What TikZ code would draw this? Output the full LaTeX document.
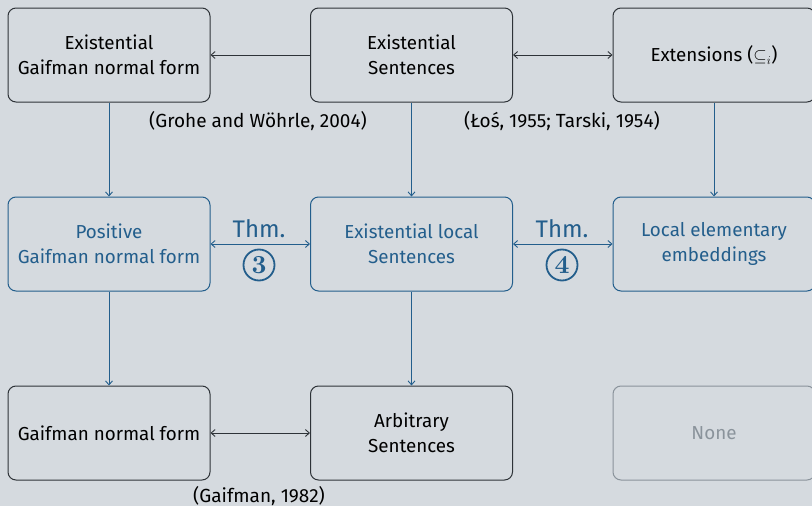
\documentclass[tikz,border=0pt]{standalone}
\usepackage[no-math]{fontspec}
\setmainfont{Fira Sans}
\newfontfamily\lmdigit{lmroman10-bold.otf}
\usetikzlibrary{arrows.meta}
\definecolor{bgc}{HTML}{D5DADF}
\definecolor{dk}{HTML}{2E3338}
\definecolor{bl}{HTML}{235E8C}
\definecolor{gr}{HTML}{8A939B}
\tikzset{
  box/.style={draw=dk, line width=1pt, rounded corners=8pt, minimum width=202pt, minimum height=94pt, align=center, text=black, font=\fontsize{18.8}{25}\selectfont},
  bbox/.style={box, draw=bl, text=bl},
  gbox/.style={box, draw=gr, text=gr},
  conn/.style={draw=dk, line width=0.9pt, -{Straight Barb[length=4pt,width=7pt]}},
  bconn/.style={conn, draw=bl},
  both/.style={{Straight Barb[length=4pt,width=7pt]}-{Straight Barb[length=4pt,width=7pt]}},
  lbl/.style={text=black, font=\fontsize{19}{25}\selectfont},
  thm/.style={text=bl, font=\fontsize{24}{28}\selectfont},
  circ/.style={text=bl, draw=bl, circle, line width=1.8pt, inner sep=0pt, minimum size=31pt, font=\fontsize{26}{26}\selectfont\lmdigit},
}
\begin{document}
\begin{tikzpicture}[x=1pt,y=-1pt]
\fill[bgc] (0,0) rectangle (812,506);
\useasboundingbox (0,0) rectangle (812,506);
\node[box] (egnf) at (109,55) {Existential\\Gaifman normal form};
\node[box] (es) at (411.5,55) {Existential\\Sentences};
\node[box] (ext) at (714,55) {Extensions ($\subseteq_i$)};
\node[bbox] (pgnf) at (109,244) {Positive\\Gaifman normal form};
\node[bbox] (els) at (411.5,244) {Existential local\\Sentences};
\node[bbox] (lee) at (714,244) {Local elementary\\embeddings};
\node[box] (gnf) at (109,433) {Gaifman normal form};
\node[box] (arb) at (411.5,433) {Arbitrary\\Sentences};
\node[gbox] (none) at (714,433) {None};
\draw[conn] (es) -- (egnf);
\draw[conn, both] (es) -- (ext);
\draw[bconn] (egnf) -- (pgnf);
\draw[bconn] (es) -- (els);
\draw[bconn] (ext) -- (lee);
\draw[bconn, both] (pgnf) -- (els);
\draw[bconn, both] (els) -- (lee);
\draw[bconn] (pgnf) -- (gnf);
\draw[bconn] (els) -- (arb);
\draw[conn, both] (gnf) -- (arb);
\node[lbl] (l1) at (258,121) {(Grohe and Wöhrle, 2004)};
\node[lbl] (l2) at (562,121) {(Łoś, 1955; Tarski, 1954)};
\node[lbl] (l3) at (259,496) {(Gaifman, 1982)};
\node[thm] (t3) at (259,229) {Thm.};
\node[circ] (c3) at (259,265) {3};
\node[thm] (t4) at (562,229) {Thm.};
\node[circ] (c4) at (562,265) {4};
\end{tikzpicture}
\end{document}
